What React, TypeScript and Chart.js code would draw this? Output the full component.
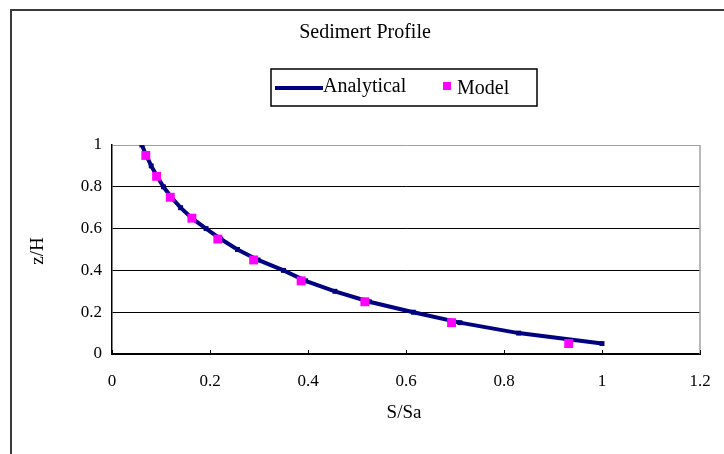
import React, { useEffect, useRef } from "react";
import { Chart, registerables } from "chart.js";

Chart.register(...registerables);

// Analytical profile: z/H and S/Sa
const analyticalZ = [1.0, 0.95, 0.9, 0.85, 0.8, 0.75, 0.7, 0.65, 0.6, 0.55, 0.5, 0.45, 0.4, 0.35, 0.3, 0.25, 0.2, 0.15, 0.1, 0.05];
const analyticalS = [0.061, 0.07, 0.08, 0.092, 0.105, 0.121, 0.14, 0.163, 0.192, 0.222, 0.256, 0.298, 0.35, 0.395, 0.455, 0.525, 0.615, 0.71, 0.83, 1.0];

// Model points
const modelZ = [0.95, 0.85, 0.75, 0.65, 0.55, 0.45, 0.35, 0.25, 0.15, 0.05];
const modelS = [0.069, 0.091, 0.119, 0.163, 0.216, 0.289, 0.386, 0.516, 0.693, 0.932];

const xTicks = [0, 0.2, 0.4, 0.6, 0.8, 1, 1.2];
const yTicks = [0, 0.2, 0.4, 0.6, 0.8, 1];

const titleText = "Sedimert Profile";
const xTitle = "S/Sa";
const yTitle = "z/H";
const seriesNames = ["Analytical", "Model"];

const FONT = "'Liberation Serif', 'Times New Roman', serif";
const NAVY = "#000080";
const MAGENTA = "#FF00FF";

const decorPlugin = {
  id: "decor",
  afterDraw(chart: any) {
    const ctx = chart.ctx;
    const area = chart.chartArea;
    const xs = chart.scales.x;
    ctx.save();
    // outer frame
    ctx.strokeStyle = "#3a3a3a";
    ctx.lineWidth = 2;
    ctx.strokeRect(11, 10, 800, 500);

    // right plot border (gray)
    ctx.strokeStyle = "#a0a0a0";
    ctx.lineWidth = 1.5;
    ctx.beginPath();
    ctx.moveTo(area.right, area.top);
    ctx.lineTo(area.right, area.bottom);
    ctx.stroke();

    // inward x tick marks
    ctx.strokeStyle = "#000";
    ctx.lineWidth = 1;
    xTicks.forEach((v) => {
      const px = Math.round(xs.getPixelForValue(v)) + 0.5;
      ctx.beginPath();
      ctx.moveTo(px, area.bottom);
      ctx.lineTo(px, area.bottom - 4);
      ctx.stroke();
    });

    // title
    ctx.fillStyle = "#000";
    ctx.font = `20px ${FONT}`;
    ctx.textAlign = "center";
    ctx.textBaseline = "middle";
    ctx.fillText(titleText, 365, 33);

    // legend box
    ctx.strokeStyle = "#000";
    ctx.lineWidth = 1.5;
    ctx.strokeRect(271, 69, 266, 37);
    ctx.strokeStyle = NAVY;
    ctx.lineWidth = 4;
    ctx.beginPath();
    ctx.moveTo(275, 88);
    ctx.lineTo(323, 88);
    ctx.stroke();
    ctx.fillStyle = "#000";
    ctx.font = `20px ${FONT}`;
    ctx.textAlign = "left";
    ctx.fillText(seriesNames[0], 323, 87);
    ctx.fillStyle = MAGENTA;
    ctx.fillRect(443, 82, 8, 8);
    ctx.fillStyle = "#000";
    ctx.fillText(seriesNames[1], 457, 89);

    // axis titles
    ctx.font = `19px ${FONT}`;
    ctx.textAlign = "center";
    ctx.fillText(xTitle, 404, 413);
    ctx.translate(38, 251);
    ctx.rotate(-Math.PI / 2);
    ctx.fillText(yTitle, 0, 0);
    ctx.restore();
  },
};

export default function App() {
  const ref = useRef<HTMLCanvasElement | null>(null);
  useEffect(() => {
    if (!ref.current) return;
    const chart = new Chart(ref.current, {
      type: "scatter",
      data: {
        datasets: [
          {
            label: seriesNames[1],
            data: modelZ.map((z, i) => ({ x: modelS[i], y: z })),
            pointStyle: "rect",
            pointRadius: 6.3,
            pointBackgroundColor: MAGENTA,
            pointBorderColor: MAGENTA,
            pointBorderWidth: 0,
            showLine: false,
            order: 0,
          },
          {
            label: seriesNames[0],
            data: analyticalZ.map((z, i) => ({ x: analyticalS[i], y: z })),
            showLine: true,
            borderColor: NAVY,
            borderWidth: 4,
            pointStyle: "rect",
            pointRadius: 3.5,
            pointBackgroundColor: NAVY,
            pointBorderColor: NAVY,
            pointBorderWidth: 0,
            tension: 0,
            order: 1,
          },
        ],
      },
      options: {
        responsive: false,
        animation: false,
        events: [],
        layout: { padding: { left: 0, top: 145, right: 24, bottom: 0 } },
        plugins: {
          legend: { display: false },
          title: { display: false },
          tooltip: { enabled: false },
        },
        scales: {
          x: {
            type: "linear",
            min: 0,
            max: 1.2,
            afterFit: (s: any) => {
              s.height = 100;
              s.paddingLeft = 0;
              s.paddingRight = 0;
            },
            afterBuildTicks: (s: any) => {
              s.ticks = xTicks.map((v) => ({ value: v }));
            },
            ticks: {
              color: "#000",
              font: { family: FONT, size: 17 },
              padding: 17,
              maxRotation: 0,
              callback: (v: any) => String(Number(Number(v).toFixed(1))),
            },
            grid: { display: false, drawTicks: false },
            border: { display: true, color: "#000", width: 2 },
          },
          y: {
            type: "linear",
            min: 0,
            max: 1,
            afterFit: (s: any) => {
              s.width = 112;
              s.paddingTop = 0;
              s.paddingBottom = 0;
            },
            afterBuildTicks: (s: any) => {
              s.ticks = yTicks.map((v) => ({ value: v }));
            },
            ticks: {
              color: "#000",
              font: { family: FONT, size: 17 },
              padding: 10,
              callback: (v: any) => String(Number(Number(v).toFixed(1))),
            },
            grid: {
              drawTicks: false,
              color: (c: any) => (c.tick && c.tick.value === 1 ? "#a0a0a0" : "#000"),
              lineWidth: 1,
            },
            border: { display: true, color: "#000", width: 1.5 },
          },
        },
      },
      plugins: [decorPlugin],
    });
    return () => chart.destroy();
  }, []);
  return (
    <div style={{ position: "fixed", left: 0, top: 0, width: 724, height: 454, background: "#fff", overflow: "hidden" }}>
      <canvas ref={ref} width={724} height={454} style={{ display: "block" }} />
    </div>
  );
}
